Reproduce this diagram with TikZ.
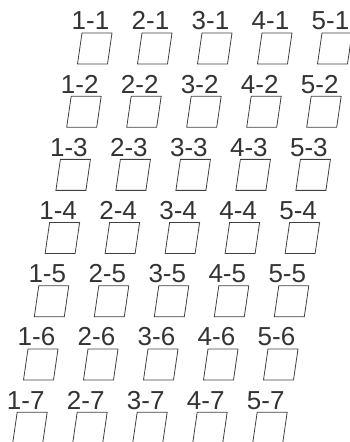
\documentclass[tikz,border=0pt]{standalone}
\usepackage{fontspec}
\setmainfont{Liberation Sans}
\definecolor{linegray}{HTML}{404040}
\definecolor{textgray}{HTML}{333333}
\begin{document}
\begin{tikzpicture}[x=1pt,y=1pt,
  cell/.style={draw=linegray, line width=0.8pt, minimum width=30pt, minimum height=31pt, inner sep=0pt, outer sep=0pt, xslant=0.145},
  lbl/.style={anchor=base, inner sep=0pt, text=textgray, font=\fontsize{26}{31}\selectfont}]
\useasboundingbox (0,0) rectangle (349,442);
\foreach \r in {1,...,7}{
  \foreach \c in {1,...,5}{
    \pgfmathsetmacro\tlx{82+60*(\c-1)-10.8*(\r-1)}
    \pgfmathsetmacro\topy{442-33-63.2*(\r-1)}
    \node[cell] (b\c\r) at (\tlx+12.75, \topy-15.5) {};
    \node[lbl] (l\c\r) at (\tlx+8.5, \topy+3) {\c-\r};
  }
}
\end{tikzpicture}
\end{document}
